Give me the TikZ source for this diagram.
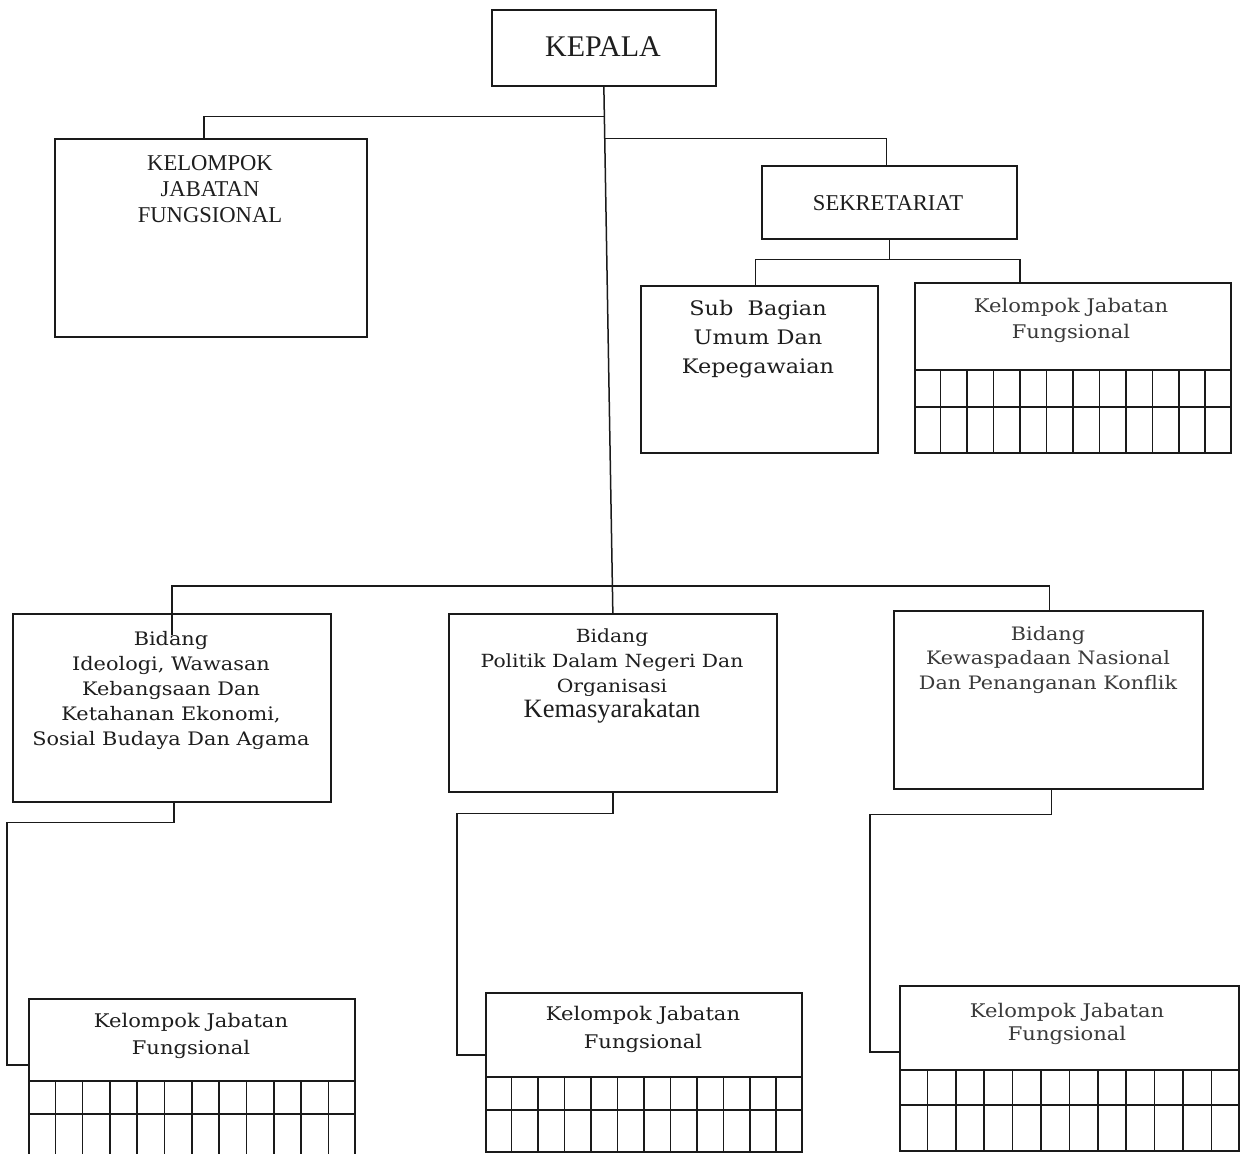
\documentclass[tikz,border=0pt]{standalone}
\usepackage{fontspec}
\setmainfont{Liberation Serif}
\newfontfamily\bk[FakeStretch=1.12]{DejaVu Serif}
\usetikzlibrary{calc}
\definecolor{ink}{HTML}{1A1A1A}
\definecolor{inkt}{HTML}{1E1E1E}
\definecolor{inkl}{HTML}{3A3A3A}
\tikzset{
  box/.style={draw=ink, line width=1.7pt, rectangle, inner sep=0pt, anchor=north west},
  conn/.style={draw=ink, line width=1.5pt},
  gridl/.style={draw=ink, line width=1.5pt},
  txt/.style={inner sep=0pt, align=center, text=inkt},
}
\newcommand\kgrid[3]{%
  \draw[gridl] ([yshift=-#2]#1.north west) -- ([yshift=-#2]#1.north east);
  \draw[gridl] ([yshift=-#3]#1.north west) -- ([yshift=-#3]#1.north east);
  \foreach \i in {1,...,11}{
    \draw[gridl] ($([yshift=-#2]#1.north west)!\i/12!([yshift=-#2]#1.north east)$) -- ($(#1.south west)!\i/12!(#1.south east)$);
  }%
}
\begin{document}
\begin{tikzpicture}[x=1pt,y=-1pt]
\useasboundingbox[fill=white] (0,0) rectangle (1246,1153);
\clip (0,0) rectangle (1246,1153);

% boxes
\node[box, minimum width=224pt, minimum height=76pt] (kepala) at (491,9) {};
\node[box, minimum width=312pt, minimum height=198pt] (kjf0) at (54,138) {};
\node[box, minimum width=255pt, minimum height=73pt] (sek) at (761,165) {};
\node[box, minimum width=237pt, minimum height=167pt] (sub) at (640,285) {};
\node[box, minimum width=316pt, minimum height=170pt] (kjfS) at (914,282) {};
\node[box, minimum width=318pt, minimum height=188pt] (b1) at (12,613) {};
\node[box, minimum width=328pt, minimum height=178pt] (b2) at (448,613) {};
\node[box, minimum width=309pt, minimum height=178pt] (b3) at (893,610) {};
\node[box, minimum width=326pt, minimum height=167pt] (kjf1) at (28,998) {};
\node[box, minimum width=316pt, minimum height=159pt] (kjf2) at (485,992) {};
\node[box, minimum width=339pt, minimum height=165pt] (kjf3) at (899,985) {};

% grids
\kgrid{kjfS}{88pt}{125pt}
\kgrid{kjf1}{83pt}{116pt}
\kgrid{kjf2}{85pt}{118pt}
\kgrid{kjf3}{85pt}{120pt}

% connectors
\coordinate (j1) at ($(kepala.south)!0.057!(b2.north)$);
\coordinate (j2) at ($(kepala.south)!0.0985!(b2.north)$);
\coordinate (j3) at ($(kepala.south)!0.949!(b2.north)$);
\draw[conn] (kepala.south) -- (b2.north);
\draw[conn] (j1) -| ([xshift=-7pt]kjf0.north);
\draw[conn] (j2) -| ([xshift=-3pt]sek.north);
\coordinate (sb) at ([yshift=-20pt]sek.south);
\draw[conn] (sek.south) -- (sb);
\draw[conn] (sb) -| ([xshift=-4pt]sub.north);
\draw[conn] (sb) -| ([xshift=106pt]kjfS.north west);
\draw[conn] (j3) -| ([yshift=-22pt]b1.north);
\draw[conn] (j3) -| ([xshift=1pt]b3.north);
\draw[conn] ([xshift=2pt]b1.south) -- ++(0,20) -| ([xshift=-21pt,yshift=-67pt]kjf1.north west) -- ([yshift=-67pt]kjf1.north west);
\draw[conn] (b2.south) -- ++(0,21) -| ([xshift=-28pt,yshift=-63pt]kjf2.north west) -- ([yshift=-63pt]kjf2.north west);
\draw[conn] ([xshift=3pt]b3.south) -- ++(0,25) -| ([xshift=-29pt,yshift=-67pt]kjf3.north west) -- ([yshift=-67pt]kjf3.north west);

% texts
\node[txt, font=\fontsize{30}{36}\selectfont] (tkepala) at (603,47) {KEPALA};
\node[txt, font=\fontsize{22.6}{26}\selectfont] (tkjf0) at (210,189) {KELOMPOK\\JABATAN\\FUNGSIONAL};
\node[txt, font=\fontsize{22.6}{26}\selectfont] (tsek) at (888,203) {SEKRETARIAT};
\node[txt, font=\bk\fontsize{20}{29}\selectfont] (tsub) at (758,339) {Sub\ \ Bagian\\Umum Dan\\Kepegawaian};
\node[txt, text=inkl, font=\bk\fontsize{18.8}{26}\selectfont] (tkjfS) at (1071,320) {Kelompok Jabatan\\Fungsional};
\node[txt, font=\bk\fontsize{18.6}{25}\selectfont] (tb1) at (171,690) {Bidang\\Ideologi, Wawasan\\Kebangsaan Dan\\Ketahanan Ekonomi,\\Sosial Budaya Dan Agama};
\node[txt, font=\bk\fontsize{18.1}{25}\selectfont] (tb2) at (612,676) {Bidang\\Politik Dalam Negeri Dan\\Organisasi\\{\rmfamily\fontsize{26.5}{27}\selectfont Kemasyarakatan}};
\node[txt, text=inkl, font=\bk\fontsize{18.5}{24.5}\selectfont] (tb3) at (1048,660) {Bidang\\Kewaspadaan Nasional\\Dan Penanganan Konflik};
\node[txt, font=\bk\fontsize{18.8}{27}\selectfont] (tkjf1) at (191,1036) {Kelompok Jabatan\\Fungsional};
\node[txt, font=\bk\fontsize{18.8}{28}\selectfont] (tkjf2) at (643,1029) {Kelompok Jabatan\\Fungsional};
\node[txt, text=inkl, font=\bk\fontsize{18.8}{23.5}\selectfont] (tkjf3) at (1067,1024) {Kelompok Jabatan\\Fungsional};
\end{tikzpicture}
\end{document}
